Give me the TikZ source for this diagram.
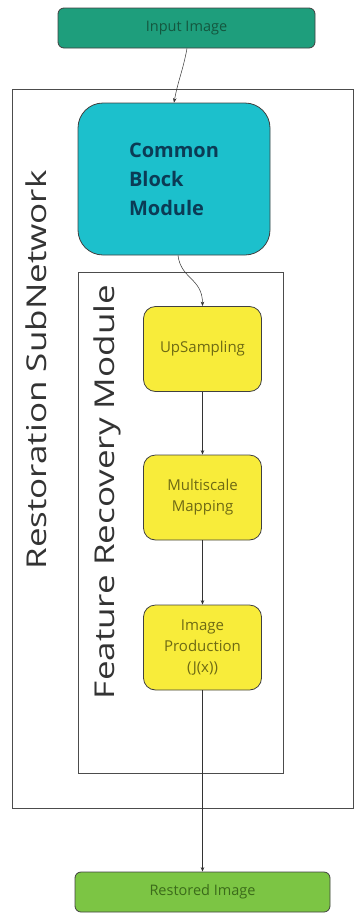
\documentclass[tikz,border=0pt]{standalone}
\usepackage{fontspec}
\setmainfont{Open Sans}
\usetikzlibrary{arrows.meta}
\definecolor{inpgreen}{HTML}{1E9E7C}
\definecolor{inptext}{HTML}{14573F}
\definecolor{cbmcyan}{HTML}{1CC0CC}
\definecolor{cbmtext}{HTML}{0B3B55}
\definecolor{frmyellow}{HTML}{F8EC3A}
\definecolor{frmtext}{HTML}{6E6A14}
\definecolor{rstgreen}{HTML}{7CC544}
\definecolor{rsttext}{HTML}{3B6B1A}
\tikzset{
  iobox/.style={draw=black!75, line width=0.8pt, rounded corners=6pt, minimum height=40pt, font=\fontsize{14.5}{16}\selectfont},
  stepbox/.style={draw=black!75, line width=0.8pt, fill=frmyellow, text=frmtext, rounded corners=12pt,
    minimum width=118pt, minimum height=85pt, align=center, font=\fontsize{15}{21}\selectfont},
  frame/.style={draw=black!70, line width=0.9pt},
  sidelabel/.style={rotate=90, yscale=0.78, transform shape, text=black!80, font=\fontsize{35}{35}\selectfont},
  flow/.style={-{Stealth[length=4.5pt,width=3.5pt]}, black!80, line width=0.5pt}
}
\begin{document}
\begin{tikzpicture}[x=1pt, y=-1pt]
\useasboundingbox (0,0) rectangle (354,913);
\draw[frame] (12,89) rectangle (353,808);
\node[sidelabel] (rsn) at (36,370) {Restoration SubNetwork};
\node[iobox, fill=inpgreen, text=inptext, minimum width=257pt] (inp) at (186.5,28) {Input Image};
\node[draw=black!75, line width=0.8pt, fill=cbmcyan, text=cbmtext, rounded corners=25pt,
  minimum width=192pt, minimum height=152pt, align=left,
  font=\bfseries\fontsize{20}{29}\selectfont] (cbm) at (174,179) {Common\\Block\\Module};
\draw[frame] (78,272) rectangle (283,773);
\node[sidelabel] (frm) at (107,492) {Feature Recovery Module};
\node[stepbox] (ups) at (202.5,349) {UpSampling};
\node[stepbox] (msm) at (202.5,497.5) {Multiscale\\Mapping};
\node[stepbox] (imp) at (202.5,647.5) {Image\\Production\\(J(x))};
\node[iobox, fill=rstgreen, text=rsttext, minimum width=255pt] (rst) at (202.5,892) {Restored Image};
\draw[flow] (inp.south) ++(0.5,0) .. controls +(-4,22) and +(4,-22) .. (cbm.north);
\draw[flow] (cbm.south) ++(4,0) .. controls +(3,24) and +(0,-28) .. (ups.north);
\draw[flow] (ups) -- (msm);
\draw[flow] (msm) -- (imp);
\draw[flow] (imp) -- (rst);
\end{tikzpicture}
\end{document}
